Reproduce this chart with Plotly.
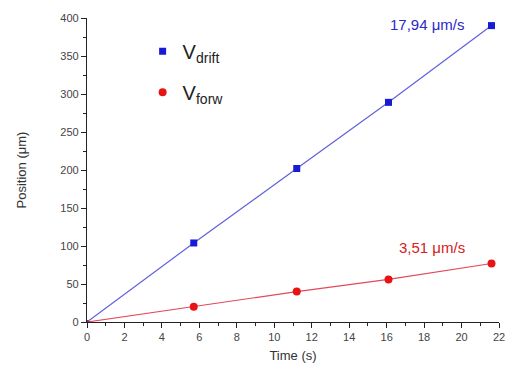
import plotly.graph_objects as go

time_drift = [0, 5.7, 11.2, 16.1, 21.6]
pos_drift = [0, 104, 202, 289, 390]
time_forw = [0, 5.7, 11.2, 16.1, 21.6]
pos_forw = [0, 20, 40, 56, 77]
label_drift = "17,94 \u03bcm/s"
label_forw = "3,51 \u03bcm/s"

blue = "#1a1ad6"
red = "#e81414"
font = "Liberation Sans, Arial, sans-serif"

fig = go.Figure()
fig.add_trace(go.Scatter(x=time_drift, y=pos_drift, mode="lines",
                         line=dict(color="#6060dd", width=1.2), showlegend=False))
fig.add_trace(go.Scatter(x=time_forw, y=pos_forw, mode="lines",
                         line=dict(color="#e04a5a", width=1.2), showlegend=False))
fig.add_trace(go.Scatter(x=time_drift[1:], y=pos_drift[1:], mode="markers",
                         marker=dict(symbol="square", color=blue, size=7),
                         name="V<sub>drift</sub>", legendgroup="a"))
fig.add_trace(go.Scatter(x=time_forw[1:], y=pos_forw[1:], mode="markers",
                         marker=dict(symbol="circle", color=red, size=8),
                         name="V<sub>forw</sub>", legendgroup="b"))
fig.add_trace(go.Scatter(x=time_forw[:1], y=pos_forw[:1], mode="markers",
                         marker=dict(symbol="circle", color="#802050", size=4),
                         showlegend=False))

fig.add_annotation(x=20.3, y=391, text=label_drift, showarrow=False, xanchor="right",
                   font=dict(color="#2a2ac8", size=15, family=font))
fig.add_annotation(x=20.3, y=98, text=label_forw, showarrow=False, xanchor="right",
                   font=dict(color="#d42020", size=15, family=font))

fig.update_layout(
    width=512, height=374,
    margin=dict(l=87, r=7, t=18, b=52),
    paper_bgcolor="white", plot_bgcolor="white",
    font=dict(family=font, color="#333"),
    legend=dict(x=0.135, y=0.955, xanchor="left", yanchor="top",
                font=dict(size=20, color="#222"), tracegroupgap=12,
                bgcolor="rgba(0,0,0,0)", itemwidth=30),
    xaxis=dict(range=[0, 22], dtick=2, tick0=0, showgrid=False, zeroline=False,
               showline=True, linecolor="#222", linewidth=1.2,
               ticks="outside", ticklen=5, tickcolor="#222",
               minor=dict(dtick=1, ticks="outside", ticklen=3, tickcolor="#222"),
               tickfont=dict(size=11, color="#444"),
               title=dict(text="Time (s)", font=dict(size=13, color="#333"), standoff=8)),
    yaxis=dict(range=[0, 400], dtick=50, tick0=0, showgrid=False, zeroline=False,
               showline=True, linecolor="#222", linewidth=1.2,
               ticks="outside", ticklen=5, tickcolor="#222",
               minor=dict(dtick=25, ticks="outside", ticklen=3, tickcolor="#222"),
               tickfont=dict(size=11, color="#444"),
               title=dict(text="Position (\u03bcm)", font=dict(size=13, color="#333"), standoff=30)),
)
fig.write_html("out.html")
